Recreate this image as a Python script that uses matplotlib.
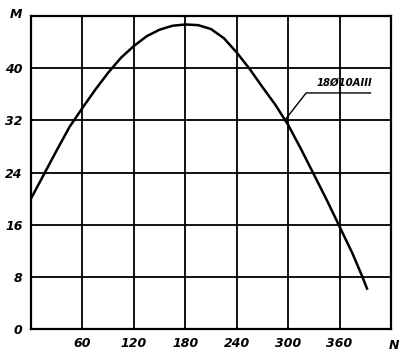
import matplotlib
matplotlib.use("Agg")
import matplotlib.pyplot as plt

N = [0, 15, 30, 45, 60, 75, 90, 105, 120, 135, 150, 165, 180, 195, 210, 225,
     240, 255, 270, 285, 300, 315, 330, 345, 360, 375, 386, 392]
M = [20.0, 23.7, 27.4, 31.0, 33.9, 36.7, 39.3, 41.6, 43.4, 44.9, 45.9, 46.5, 46.7, 46.6,
     46.0, 44.6, 42.4, 39.9, 37.1, 34.4, 31.3, 27.6, 23.7, 19.8, 15.7, 11.6, 8.2, 6.2]
x_ticks = [60, 120, 180, 240, 300, 360]
y_ticks = [0, 8, 16, 24, 32, 40]
label = "18Ø10AIII"

fig = plt.figure(figsize=(4.06, 3.54), dpi=100)
ax = fig.add_axes([31/406, 1-329/354, 360/406, 313/354])
ax.set_xlim(0, 420)
ax.set_ylim(0, 48)
for x in x_ticks:
    ax.axvline(x, color='black', lw=1.3, zorder=1)
for y in y_ticks[1:]:
    ax.axhline(y, color='black', lw=1.3, zorder=1)
ax.plot(N, M, color='black', lw=1.8, zorder=3, solid_joinstyle='round')
for s in ax.spines.values():
    s.set_linewidth(1.6)
ax.set_xticks(x_ticks)
ax.set_yticks(y_ticks)
fs = dict(fontsize=9, fontstyle='italic', fontweight='bold')
ax.set_xticklabels([str(v) for v in x_ticks], **fs)
ax.set_yticklabels([str(v) for v in y_ticks], **fs)
ax.tick_params(length=0, pad=6)
ax.text(-18, 48.3, "M", ha='center', va='center', **fs)
ax.text(424, -1.5, "N", ha='center', va='top', **fs)
# leader line
ax.plot([296, 321, 396], [32, 36.2, 36.2], color='black', lw=1.0, zorder=3)
ax.text(333, 37.0, label, ha='left', va='bottom', fontsize=7.3, fontstyle='italic', fontweight='bold')
fig.savefig("out.png", dpi=100)
